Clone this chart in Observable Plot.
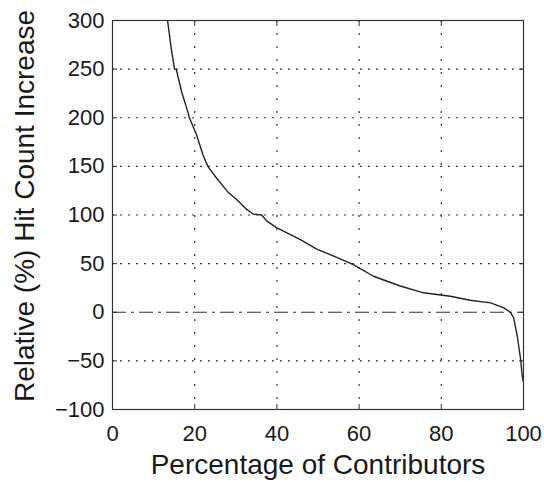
<!DOCTYPE html>
<html><head><meta charset="utf-8">
<script src="https://cdn.jsdelivr.net/npm/d3@7"></script>
<script src="https://cdn.jsdelivr.net/npm/@observablehq/plot@0.6"></script>
<style>html,body{margin:0;padding:0;background:#fff} svg{display:block}</style>
</head><body><div id="chart"></div>
<script>
// Percentage of contributors (sorted) and their relative hit count increase (%)
const pct      = [13.1, 13.4, 14.3, 15.1, 15.5, 16.8, 18.4, 18.7, 20.4, 22.0, 23.2, 25.3, 28.0, 30.2, 32.6, 34.2, 36.3, 37.5, 39.9, 45.6, 49.7, 53.7, 58.6, 63.5, 70.0, 75.7, 82.2, 87.0, 92.0, 95.2, 96.8, 97.6, 98.5, 99.3, 99.7, 100];
const increase = [310,  300,  271,  250,  250,  227,  205,  200,  183,  162,  150,  138,  124,  116,  106,  101,  100,   94,   87,   75,   65,   58,   49,   37,   27,   20, 16.5, 12.3,  9.6,  4.5,    0, -5.8, -24.7, -48.6, -66, -72];
const xTicks = [0, 20, 40, 60, 80, 100];
const yTicks = [-100, -50, 0, 50, 100, 150, 200, 250, 300];
const xGrid = [20, 40, 60, 80];
const yGrid = [-50, 50, 100, 150, 200, 250];
const zeroLine = [0];
const xTitle = "Percentage of Contributors";
const yTitle = "Relative (%) Hit Count Increase";

const data = pct.map((p, i) => ({pct: p, inc: increase[i]}));
const blank = () => "";

const chart = Plot.plot({
  width: 544, height: 482,
  marginLeft: 112, marginRight: 21, marginTop: 20, marginBottom: 73,
  style: {fontFamily: "'Liberation Sans', Arial, sans-serif", fontSize: "22px", background: "#fff", color: "#1a1a1a"},
  x: {domain: [0, 100]},
  y: {domain: [-100, 300]},
  marks: [
    Plot.ruleX(xGrid, {stroke: "#333", strokeWidth: 1.2, strokeDasharray: "2,11"}),
    Plot.ruleY(yGrid, {stroke: "#333", strokeWidth: 1.2, strokeDasharray: "2,6"}),
    Plot.ruleY(zeroLine, {stroke: "#333", strokeWidth: 1.2, strokeDasharray: "14,5,3,5"}),
    Plot.line(data, {x: "pct", y: "inc", stroke: "#222", strokeWidth: 1.4, clip: true}),
    Plot.frame({stroke: "#333", strokeWidth: 1.2}),
    Plot.axisX(xTicks, {anchor: "bottom", tickSize: 0, tickPadding: 16, label: null}),
    Plot.axisY(yTicks, {anchor: "left", tickSize: 0, tickPadding: 8, label: null}),
    Plot.axisX(xTicks, {anchor: "bottom", tickSize: -5, tickFormat: blank, label: null, stroke: "#333"}),
    Plot.axisX(xTicks, {anchor: "top", tickSize: -5, tickFormat: blank, label: null, stroke: "#333"}),
    Plot.axisY(yTicks, {anchor: "left", tickSize: -5, tickFormat: blank, label: null, stroke: "#333"}),
    Plot.axisY(yTicks, {anchor: "right", tickSize: -5, tickFormat: blank, label: null, stroke: "#333"}),
    Plot.text([xTitle], {frameAnchor: "bottom", dy: 64, fontSize: 28, fill: "#1a1a1a"}),
    Plot.text([yTitle], {frameAnchor: "left", textAnchor: "middle", dx: -87, dy: -9, rotate: -90, fontSize: 28, fill: "#1a1a1a"})
  ]
});
document.getElementById("chart").appendChild(chart);
</script>
</body></html>
